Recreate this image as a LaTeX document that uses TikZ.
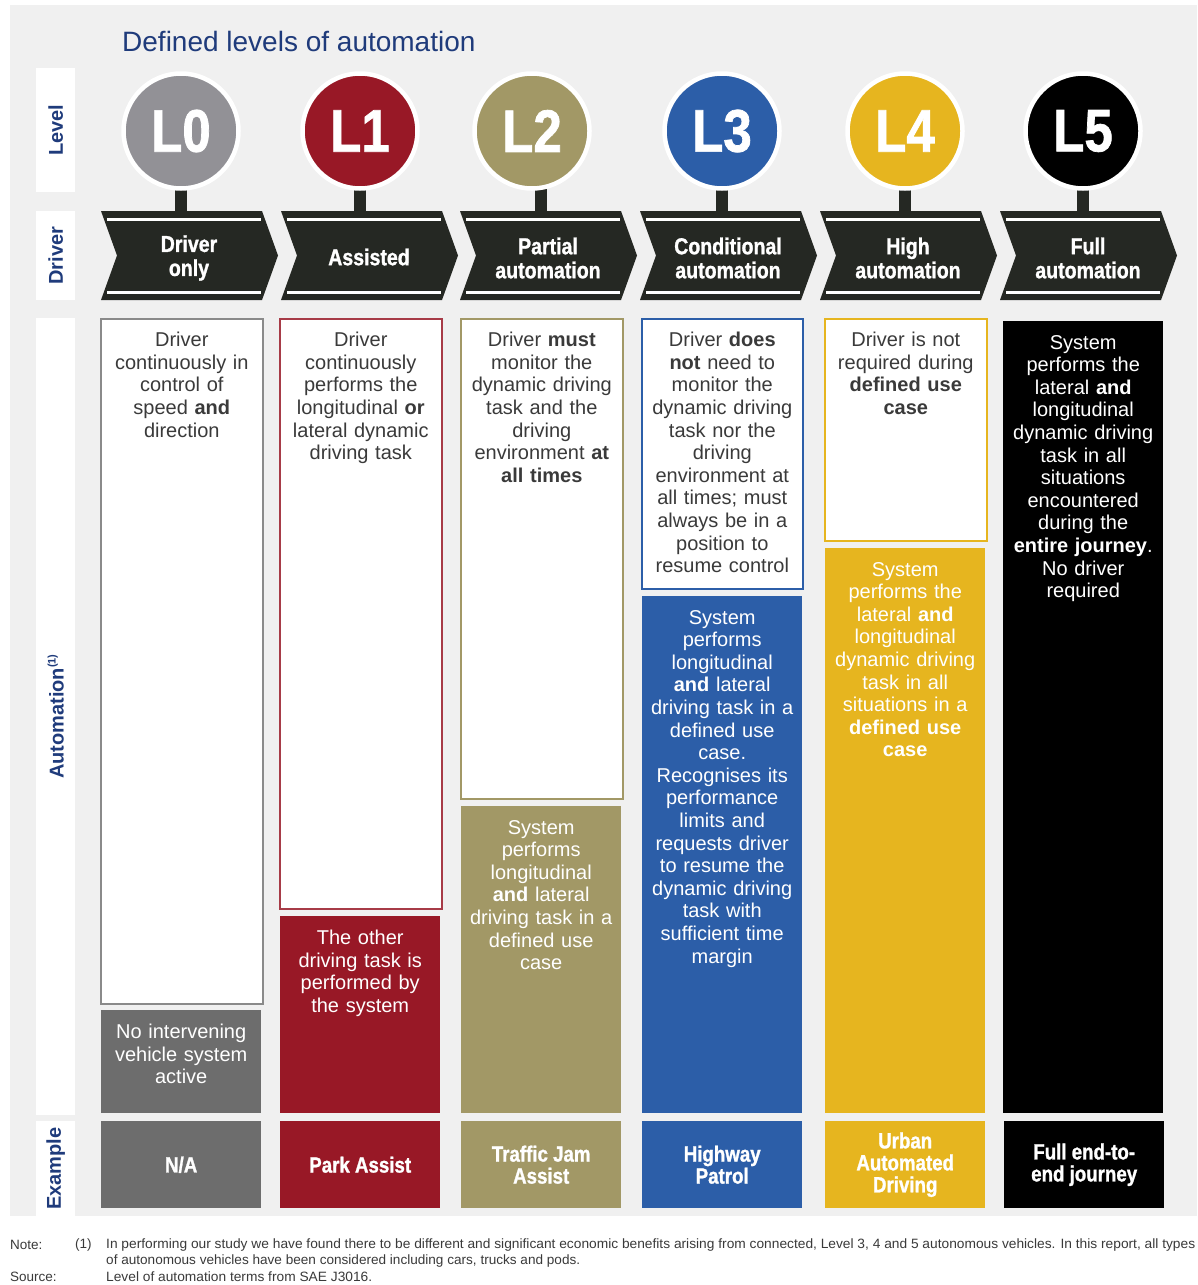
\documentclass[tikz,border=0pt]{standalone}
\usepackage{fontspec}
\usepackage{graphicx}
\setmainfont{Liberation Sans}
\newfontfamily\condf[FakeStretch=0.85, BoldFeatures={FakeBold=1.2}]{Liberation Sans}
\definecolor{bggray}{HTML}{F0F0F0}
\definecolor{navy}{HTML}{1F3B7B}
\definecolor{cLa}{HTML}{929196}
\definecolor{cLb}{HTML}{981826}
\definecolor{cLc}{HTML}{A29866}
\definecolor{cLd}{HTML}{2C5EA8}
\definecolor{cLe}{HTML}{E6B51F}
\definecolor{chev}{HTML}{252823}
\definecolor{nagray}{HTML}{6D6D6D}
\definecolor{txt}{HTML}{3A3A3A}
\definecolor{borda}{HTML}{8A8A8A}
\begin{document}
\begin{tikzpicture}[x=1pt,y=-1pt,
  sidelbl/.style={font=\fontsize{20}{22}\selectfont\bfseries, text=navy, rotate=90, inner sep=0},
  sidebox/.style={fill=white, draw=none, anchor=north west, inner sep=0, minimum width=39pt},
  wbox/.style={draw=#1, line width=1.6pt, fill=white, anchor=north west, inner sep=0},
  cbox/.style={fill=#1, draw=none, anchor=north west, inner sep=0},
  btext/.style={font=\fontsize{20}{22.6}\selectfont, text=txt, text width=158pt, align=center, inner sep=0, anchor=north},
  wtext/.style={btext, text=white},
  chevtext/.style={font=\condf\bfseries\fontsize{23}{24}\selectfont, text=white, align=center, inner sep=0},
  extext/.style={font=\condf\bfseries\fontsize{22}{22}\selectfont, text=white, align=center, minimum width=160pt, minimum height=87pt},
  lvl/.style={circle, fill=#1, draw=white, line width=4.5pt, minimum size=115pt, inner sep=0, font=\condf\bfseries\fontsize{60}{60}\selectfont, text=white},
  stemline/.style={draw=chev, line width=12pt},
  chevshape/.style={fill=chev},
  chevline/.style={draw=white, line width=3pt},
  foot/.style={font=\fontsize{13.5}{14}\selectfont, text=txt, anchor=west, inner sep=0},
]
\useasboundingbox (0,0) rectangle (1197,1285);
\fill[white] (0,0) rectangle (1197,1285);
\fill[bggray] (10,5) rectangle (1197,1216);

% title
\node[anchor=west, inner sep=0, font=\fontsize{28}{30}\selectfont, text=navy] (title) at (122,41) {Defined levels of automation};

% side labels
\node[sidebox, minimum height=124pt] (sbA) at (36,68) {};
\node[sidelbl] (slA) at (sbA.center) {Level};
\node[sidebox, minimum height=89pt] (sbB) at (36,211) {};
\node[sidelbl] (slB) at (sbB.center) {Driver};
\node[sidebox, minimum height=797pt] (sbC) at (36,318) {};
\node[sidelbl] (slC) at (sbC.center) {Automation{\fontsize{11}{11}\selectfont\raisebox{8pt}{(1)}}};
\node[sidebox, minimum height=95pt] (sbD) at (36,1121) {};
\node[sidelbl] (slD) at (sbD.center) {Example};

% chevrons
\foreach \L/\nm in {101/cha,281/chb,460/chc,640/chd,820/che,1000/chf}{
  \fill[chevshape] (\L,211) -- (\L+161,211) -- (\L+177,255.5) -- (\L+161,300) -- (\L,300) -- (\L+16,255.5) -- cycle;
  \draw[chevline] (\L+6,219) -- (\L+160,219);
  \draw[chevline] (\L+6,292) -- (\L+160,292);
  \coordinate (\nm) at (\L+88,211);
}
\node[chevtext] (ta) at (189,258) {Driver\\only};
\node[chevtext] (tb) at (369,257) {Assisted};
\node[chevtext] (tc) at (548,258) {Partial\\automation};
\node[chevtext] (td) at (728,258) {Conditional\\automation};
\node[chevtext] (te) at (908,258) {High\\automation};
\node[chevtext] (tf) at (1088,258) {Full\\automation};

% stems and circles
\coordinate (sa) at (181,185); \coordinate (sb) at (360,185); \coordinate (sc) at (541,185);
\coordinate (sd) at (722,185); \coordinate (se) at (905,185); \coordinate (sf) at (1083,185);
\foreach \s in {sa,sb,sc,sd,se,sf}{ \draw[stemline] (\s) -- (\s |- 0,212); }
\node[lvl=cLa] (La) at (181,131) {L0};
\node[lvl=cLb] (Lb) at (360,131) {L1};
\node[lvl=cLc] (Lc) at (532,131) {L2};
\node[lvl=cLd] (Ld) at (722,131) {L3};
\node[lvl=cLe] (Le) at (905,131) {L4};
\node[lvl=black] (Lf) at (1083,131) {L5};

% column 0
\node[wbox=borda, minimum width=162pt, minimum height=685pt] (wa) at (100,318) {};
\node[btext] (xa) at ([yshift=-14pt]wa.north) {Driver\\continuously in\\control of\\speed \textbf{and}\\direction};
\node[cbox=nagray, minimum width=160pt, minimum height=103pt] (ka) at (101,1010) {};
\node[wtext] (ya) at ([yshift=-14pt]ka.north) {No intervening\\vehicle system\\active};

% column 1
\node[wbox=cLb!85, minimum width=162pt, minimum height=590pt] (wb) at (279,318) {};
\node[btext] (xb) at ([yshift=-14pt]wb.north) {Driver\\continuously\\performs the\\longitudinal \textbf{or}\\lateral dynamic\\driving task};
\node[cbox=cLb, minimum width=160pt, minimum height=197pt] (kb) at (280,916) {};
\node[wtext] (yb) at ([yshift=-14pt]kb.north) {The other\\driving task is\\performed by\\the system};

% column 2
\node[wbox=cLc, minimum width=162pt, minimum height=480pt] (wc) at (460,318) {};
\node[btext] (xc) at ([yshift=-14pt]wc.north) {Driver \textbf{must}\\monitor the\\dynamic driving\\task and the\\driving\\environment \textbf{at}\\\textbf{all times}};
\node[cbox=cLc, minimum width=160pt, minimum height=307pt] (kc) at (461,806) {};
\node[wtext] (yc) at ([yshift=-14pt]kc.north) {System\\performs\\longitudinal\\\textbf{and} lateral\\driving task in a\\defined use\\case};

% column 3
\node[wbox=cLd, minimum width=161pt, minimum height=270pt] (wd) at (641,318) {};
\node[btext] (xd) at ([yshift=-14pt]wd.north) {Driver \textbf{does}\\\textbf{not} need to\\monitor the\\dynamic driving\\task nor the\\driving\\environment at\\all times; must\\always be in a\\position to\\resume control};
\node[cbox=cLd, minimum width=160pt, minimum height=517pt] (kd) at (642,596) {};
\node[wtext] (yd) at ([yshift=-14pt]kd.north) {System\\performs\\longitudinal\\\textbf{and} lateral\\driving task in a\\defined use\\case.\\Recognises its\\performance\\limits and\\requests driver\\to resume the\\dynamic driving\\task with\\sufficient time\\margin};

% column 4
\node[wbox=cLe, minimum width=162pt, minimum height=222pt] (we) at (824,318) {};
\node[btext] (xe) at ([yshift=-14pt]we.north) {Driver is not\\required during\\\textbf{defined use}\\\textbf{case}};
\node[cbox=cLe, minimum width=160pt, minimum height=565pt] (ke) at (825,548) {};
\node[wtext] (ye) at ([yshift=-14pt]ke.north) {System\\performs the\\lateral \textbf{and}\\longitudinal\\dynamic driving\\task in all\\situations in a\\\textbf{defined use}\\\textbf{case}};

% column 5
\node[cbox=black, minimum width=160pt, minimum height=792pt] (kf) at (1003,321) {};
\node[wtext] (yf) at ([yshift=-14pt]kf.north) {System\\performs the\\lateral \textbf{and}\\longitudinal\\dynamic driving\\task in all\\situations\\encountered\\during the\\\textbf{entire journey}.\\No driver\\required};

% examples
\node[cbox=nagray, extext] (ea) at (101,1121) {N/A};
\node[cbox=cLb, extext] (eb) at (280,1121) {Park Assist};
\node[cbox=cLc, extext] (ec) at (461,1121) {Traffic Jam\\Assist};
\node[cbox=cLd, extext] (ed) at (642,1121) {Highway\\Patrol};
\node[cbox=cLe, extext] (ee) at (825,1121) {Urban\\Automated\\Driving};
\node[cbox=black, extext] (ef) at (1004,1121) {Full end-to-\\end journey};

% footer
\node[foot] (fa) at (10,1245) {Note:};
\node[foot] (fb) at (75,1245) {(1)};
\node[foot] (fc) at (106,1245) {\resizebox{1089pt}{\height}{In performing our study we have found there to be different and significant economic benefits arising from connected, Level 3, 4 and 5 autonomous vehicles. In this report, all types}};
\node[foot] (fd) at (106,1261) {\resizebox{474pt}{\height}{of autonomous vehicles have been considered including cars, trucks and pods.}};
\node[foot] (fe) at (10,1277) {Source:};
\node[foot] (ff) at (106,1277) {\resizebox{266pt}{\height}{Level of automation terms from SAE J3016.}};
\end{tikzpicture}
\end{document}
